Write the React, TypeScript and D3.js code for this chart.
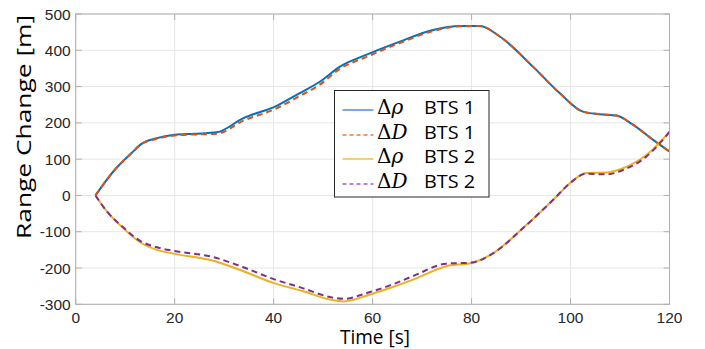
import React from "react";
import * as d3 from "d3";

const W = 705;
const H = 349;

const xTicks = [0, 20, 40, 60, 80, 100, 120];
const yTicks = [-300, -200, -100, 0, 100, 200, 300, 400, 500];

const t1 = [4, 7.6, 11.3, 13.3, 16.4, 20, 24, 28.5, 33.9, 40.6, 45, 49.4, 53.4, 58.8, 65.5, 72.2, 77.6, 81.7, 85.7, 92.4, 97.8, 102.5, 105.9, 109.3, 112.6, 116.7, 120];
const rho1 = [0, 66, 117, 142, 158, 167, 170, 174, 213, 247, 280, 314, 355, 388, 424, 456, 467, 467, 438, 355, 282, 231, 224, 220, 195, 153, 121];
const dist1 = [0, 66, 117, 142, 156, 165, 168, 170, 206, 240, 272, 306, 349, 382, 420, 453, 466, 467, 438, 355, 282, 231, 224, 220, 195, 153, 121];

const t2 = [4, 6.3, 9.6, 13, 16.4, 20, 27.8, 33.9, 39.9, 46, 51.4, 54.1, 59.5, 63.5, 68.2, 74.9, 80, 84.4, 90.4, 96.5, 99.9, 103.2, 107.3, 110.6, 115.4, 120];
const rho2 = [0, -44, -90, -129, -150, -161, -180, -209, -241, -264, -287, -292, -273, -255, -232, -195, -186, -159, -90, -12, 34, 62, 63, 75, 112, 175];
const dist2 = [0, -44, -88, -125, -143, -153, -170, -198, -230, -256, -280, -285, -266, -248, -222, -188, -185, -159, -90, -12, 34, 60, 58, 70, 108, 175];

const seriesNames = ["BTS 1", "BTS 1", "BTS 2", "BTS 2"];
const seriesSym = ["ρ", "D", "ρ", "D"];
const colors = ["#0072BD", "#D95319", "#EDB120", "#7E2F8E"];
const legendColors = ["#4a90d9", "#ee7744", "#efc040", "#a855d0"];
const dashed = [false, true, false, true];

export default function App() {
  const left = 75.7, right = 669.5, top = 14, bottom = 304.3;
  const x = d3.scaleLinear().domain([0, 120]).range([left, right]);
  const y = d3.scaleLinear().domain([-300, 500]).range([bottom, top]);
  const line = d3
    .line<[number, number]>()
    .x((d) => x(d[0]))
    .y((d) => y(d[1]))
    .curve(d3.curveMonotoneX);

  const series = [
    d3.zip(t1, rho1) as [number, number][],
    d3.zip(t1, dist1) as [number, number][],
    d3.zip(t2, rho2) as [number, number][],
    d3.zip(t2, dist2) as [number, number][],
  ];
  const drawOrder = [0, 1, 2, 3];

  const tickFont = "'Liberation Sans', Arial, sans-serif";
  const labelFont = "'Open Sans', Lato, sans-serif";
  const axisColor = "#b0b0b0";
  const tl = 6;

  const lg = { x: 334.5, y: 90.5, w: 154.5, h: 106.5 };
  const rowY = [110, 135, 159, 184];

  return (
    <svg
      width={W}
      height={H}
      style={{ position: "absolute", left: 0, top: 0, background: "#fff" }}
    >
      <rect x={0} y={0} width={W} height={H} fill="#fff" />
      {xTicks.map((t) => (
        <line key={"gx" + t} x1={x(t)} x2={x(t)} y1={top} y2={bottom} stroke="#e6e6e6" strokeWidth={1} />
      ))}
      {yTicks.map((t) => (
        <line key={"gy" + t} x1={left} x2={right} y1={y(t)} y2={y(t)} stroke="#e6e6e6" strokeWidth={1} />
      ))}
      {drawOrder.map((i) => (
        <path
          key={"s" + i}
          d={line(series[i]) || ""}
          fill="none"
          stroke={colors[i]}
          strokeWidth={2}
          strokeDasharray={dashed[i] ? "6,4" : undefined}
        />
      ))}
      <rect x={left} y={top} width={right - left} height={bottom - top} fill="none" stroke={axisColor} strokeWidth={1} />
      {xTicks.map((t) => (
        <g key={"tx" + t}>
          <line x1={x(t)} x2={x(t)} y1={bottom} y2={bottom - tl} stroke={axisColor} />
          <line x1={x(t)} x2={x(t)} y1={top} y2={top + tl} stroke={axisColor} />
          <text x={x(t)} y={bottom + 18.5} textAnchor="middle" fontFamily={tickFont} fontSize={15.5} fill="#262626">
            {t}
          </text>
        </g>
      ))}
      {yTicks.map((t) => (
        <g key={"ty" + t}>
          <line x1={left} x2={left + tl} y1={y(t)} y2={y(t)} stroke={axisColor} />
          <line x1={right} x2={right - tl} y1={y(t)} y2={y(t)} stroke={axisColor} />
          <text x={left - 5} y={y(t) + 5.5} textAnchor="end" fontFamily={tickFont} fontSize={15.5} fill="#262626">
            {t}
          </text>
        </g>
      ))}
      <text
        x={340}
        y={344}
        fontFamily={labelFont}
        fontSize={19.5}
        fill="#000"
        textLength={70}
        lengthAdjust="spacingAndGlyphs"
      >
        Time [s]
      </text>
      <text
        transform={`translate(31,239) rotate(-90)`}
        fontFamily={labelFont}
        fontSize={20.5}
        fill="#000"
        textLength={224}
        lengthAdjust="spacingAndGlyphs"
      >
        Range Change [m]
      </text>
      <rect x={lg.x} y={lg.y} width={lg.w} height={lg.h} fill="#fff" stroke="#262626" strokeWidth={1} />
      {rowY.map((ry, i) => (
        <g key={"lg" + i}>
          <line
            x1={342.5}
            x2={373.5}
            y1={ry}
            y2={ry}
            stroke={legendColors[i]}
            strokeWidth={1.5}
            strokeDasharray={dashed[i] ? "4,3" : undefined}
          />
          <text x={377} y={ry + 3.5} fontSize={20} fill="#000">
            <tspan fontFamily="'DejaVu Serif', serif">Δ</tspan>
            <tspan fontFamily="'DejaVu Serif', serif" fontStyle="italic">
              {seriesSym[i]}
            </tspan>
          </text>
          <text
            x={424}
            y={ry + 3.5}
            fontSize={18}
            fontFamily={labelFont}
            fill="#000"
            textLength={51}
            lengthAdjust="spacingAndGlyphs"
          >
            {seriesNames[i]}
          </text>
        </g>
      ))}
    </svg>
  );
}
